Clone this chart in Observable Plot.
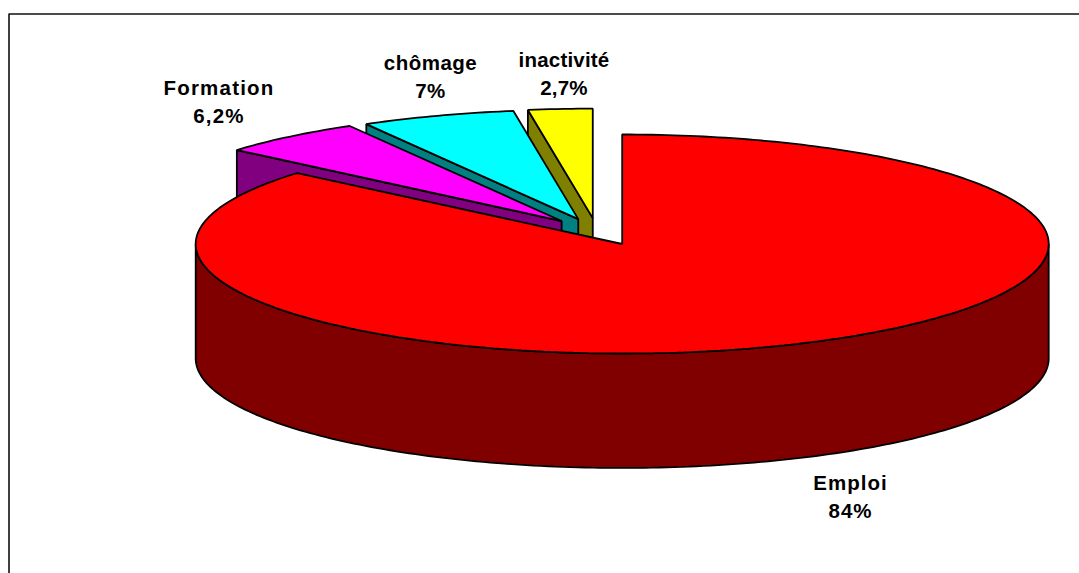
<!DOCTYPE html>
<html>
<head>
<meta charset="utf-8">
<script src="https://cdn.jsdelivr.net/npm/d3@7"></script>
<script src="https://cdn.jsdelivr.net/npm/@observablehq/plot@0.6"></script>
<style>
html,body{margin:0;padding:0;background:#fff}
svg{display:block}
.label-0{letter-spacing:.2px}
.label-1{letter-spacing:.5px}
.label-2{letter-spacing:1.2px}
.label-3{letter-spacing:1px}
</style>
</head>
<body>
<div id="chart"></div>
<script>
// Data, in order counter-clockwise from twelve o'clock
const categories = ["inactivité", "chômage", "Formation", "Emploi"];
const shares = [2.7, 7, 6.2, 84];
const shareLabels = ["2,7%", "7%", "6,2%", "84%"];
const topColors = ["#ffff00", "#00ffff", "#ff00ff", "#ff0000"];
const sideColors = ["#808000", "#008080", "#800080", "#800000"];

// Apparent angle on the tilted disc at each cumulative share
const cumulativeShares = [0, 2.7, 9.7, 15.9, 99.9];
const apparentAngles = [0, 8.75, 29.8, 49.6, 360];
// Explosion of each slice, in disc radii
const explodeX = [-0.069, -0.103, -0.142, 0];
const explodeY = [0.236, 0.227, 0.21, 0];
const depth = 1.045;

const angleOf = d3.scaleLinear().domain(cumulativeShares).range(apparentAngles);
const rad = d => d * Math.PI / 180;

let cum = 0;
const slices = categories.map((name, i) => {
  const a0 = angleOf(cum), a1 = angleOf(cum + shares[i]);
  cum += shares[i];
  return {name, i, a0, a1, ox: explodeX[i], oy: explodeY[i]};
});

const onDisc = (s, deg, drop = 0) => ({
  x: s.ox + Math.sin(rad(-deg)),
  y: s.oy + Math.cos(rad(-deg)) - drop
});
const arc = (s, from, to, drop = 0) => {
  const n = Math.max(2, Math.ceil(Math.abs(to - from)));
  return d3.range(n + 1).map(k => onDisc(s, from + (to - from) * k / n, drop));
};
const tip = (s, drop = 0) => ({x: s.ox, y: s.oy - drop});

const topFace = s => [tip(s), ...arc(s, s.a0, s.a1)];
// The far radial wall seen between the slice and the next one
const radialWall = s => [tip(s), onDisc(s, s.a1), onDisc(s, s.a1, depth), tip(s, depth)];
// The front rim of the big slice (lower half of the disc)
const rimWall = s => [...arc(s, 90, 270), ...arc(s, 270, 90, depth)];

const face = (pts, fill) => Plot.line(pts, {
  x: "x", y: "y", fill, stroke: "#000", strokeWidth: 1.8,
  curve: "linear-closed", strokeLinejoin: "miter"
});

const marks = [];
slices.slice(0, 3).forEach(s => {
  marks.push(face(radialWall(s), sideColors[s.i]));
  marks.push(face(topFace(s), topColors[s.i]));
});
const big = slices[3];
marks.push(face(rimWall(big), sideColors[3]));
marks.push(face(topFace(big), topColors[3]));

// Frame and labels (converted from picture pixels through the same scales)
const X0 = 621.7, RX = 426.5, Y0 = 243.5, RY = 109.5;
const ux = px => (px - X0) / RX;
const uy = py => (Y0 - py) / RY;
const labelCx = [563.5, 430, 218.5, 850];
const labelCy = [71.5, 74.5, 99.5, 495];

categories.forEach((c, i) => {
  marks.push(Plot.text([{text: c + "\n" + shareLabels[i], x: ux(labelCx[i]), y: uy(labelCy[i])}], {
    x: "x", y: "y", text: "text", fill: "#000", fontSize: 20.5, fontWeight: "bold",
    fontFamily: "Liberation Sans, Arial, sans-serif", lineHeight: 1.36, textAnchor: "middle",
    className: "label-" + i
  }));
});
marks.push(Plot.line([{x: ux(1079), y: uy(13.5)}, {x: ux(8.5), y: uy(13.5)}, {x: ux(8.5), y: uy(573)}], {
  x: "x", y: "y", stroke: "#111", strokeWidth: 1.6
}));

const chart = Plot.plot({
  width: 1079, height: 573,
  margin: 0,
  x: {domain: [-1, 1], range: [X0 - RX, X0 + RX], axis: null},
  y: {domain: [1, -1], range: [Y0 - RY, Y0 + RY], axis: null},
  style: {background: "#fff"},
  marks
});
document.getElementById("chart").appendChild(chart);
</script>
</body>
</html>
